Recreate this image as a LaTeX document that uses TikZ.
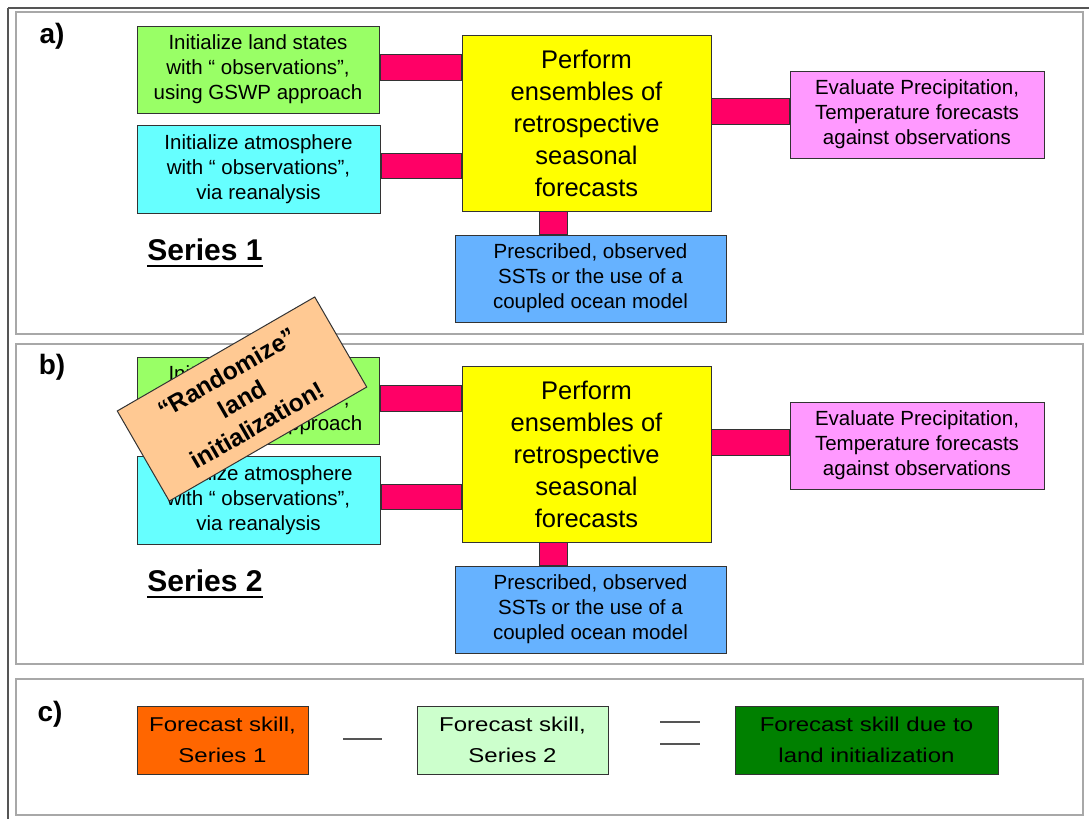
\documentclass[tikz,border=0pt]{standalone}
\usepackage{fontspec}
\setmainfont{Liberation Sans}
\newfontfamily\widefont[FakeStretch=1.2]{Liberation Sans}
\definecolor{landgreen}{HTML}{99FF66}
\definecolor{atmcyan}{HTML}{66FFFF}
\definecolor{perfyellow}{HTML}{FFFF00}
\definecolor{connpink}{HTML}{FF0066}
\definecolor{evalpink}{HTML}{FF99FF}
\definecolor{sstblue}{HTML}{66B2FF}
\definecolor{peach}{HTML}{FFC993}
\definecolor{skillorange}{HTML}{FF6600}
\definecolor{skilllight}{HTML}{CCFFCC}
\definecolor{skilldark}{HTML}{008000}
\definecolor{boxline}{HTML}{333333}
\definecolor{panelgray}{HTML}{A8A8A8}
\definecolor{outerline}{HTML}{555555}
\newcommand\seriespanel[2]{%
  \node[box, fill=landgreen, minimum width=242pt, minimum height=87pt] (land#1) at (258,69.5)
    {Initialize land states\\with “ observations”,\\using GSWP approach};
  \node[box, fill=atmcyan, minimum width=243pt, minimum height=88pt] (atm#1) at (258.5,169)
    {Initialize atmosphere\\with “ observations”,\\via reanalysis};
  \node[box, fill=perfyellow, minimum width=249pt, minimum height=176pt,
    font=\fontsize{25.5}{32}\selectfont] (perf#1) at (586.5,123)
    {Perform\\ensembles of\\retrospective\\seasonal\\forecasts};
  \node[box, fill=evalpink, minimum width=254pt, minimum height=87pt] (eval#1) at (917,114.5)
    {Evaluate Precipitation,\\Temperature forecasts\\against observations};
  \node[box, fill=sstblue, minimum width=271pt, minimum height=87pt] (sst#1) at (590.5,278.5)
    {Prescribed, observed\\SSTs or the use of a\\coupled ocean model};
  \draw[conn] ([xshift=1pt,yshift=15.5pt]land#1.east) rectangle ([yshift=-10.5pt]land#1.east -| perf#1.west);
  \draw[conn] ([xshift=1pt,yshift=16pt]atm#1.east) rectangle ([yshift=-9pt]atm#1.east -| perf#1.west);
  \draw[conn] ([yshift=16.5pt]eval#1.west -| perf#1.east) rectangle ([yshift=-9.5pt]eval#1.west);
  \draw[conn] ([xshift=-47.5pt]perf#1.south) rectangle ([xshift=-19.5pt]perf#1.south |- sst#1.north);
  \node[series] (ser#1) at (205,250) {Series #2};
  \draw[line width=2pt] ([yshift=-5pt]ser#1.base west) -- ([yshift=-5pt]ser#1.base east);
}
\begin{document}
\begin{tikzpicture}[x=1pt,y=-1pt,
  box/.style={draw=boxline, line width=1pt, inner sep=0pt, align=center, text=black,
    font=\fontsize{20.5}{25}\selectfont},
  conn/.style={draw=boxline, fill=connpink, line width=1pt},
  panel/.style={draw=panelgray, line width=1.5pt},
  plabel/.style={inner sep=0pt, font=\bfseries\fontsize{28}{30}\selectfont},
  series/.style={inner sep=0pt, font=\bfseries\fontsize{30}{32}\selectfont},
  skill/.style={box, font=\widefont\fontsize{20}{31}\selectfont, minimum height=68pt},
  opline/.style={draw=outerline, line width=2pt}]
\useasboundingbox (0,0) rectangle (1089,819);
\fill[white] (0,0) rectangle (1089,819);
% outer frame lines
\draw[opline] (8,7.5) -- (1089,7.5);
\draw[opline] (8,7.5) -- (8,819);
% panels
\draw[panel] (16,12) rectangle (1083,334);
\draw[panel] (16,344) rectangle (1083,664);
\draw[panel] (16,679) rectangle (1083,815);
\node[plabel] (la) at (52,36) {a)};
\node[plabel] (lb) at (52,367) {b)};
\node[plabel] (lc) at (50,714) {c)};
% panel a
\seriespanel{A}{1}
% panel b
\begin{scope}[yshift=-331pt]
\seriespanel{B}{2}
\end{scope}
% randomize note
\node[box, fill=peach, rotate=30, minimum width=228pt, minimum height=104pt,
  font=\bfseries\fontsize{24.5}{30}\selectfont] (rand) at (242,399)
  {“Randomize”\\land\\initialization!};
% panel c
\node[skill, fill=skillorange, minimum width=171pt] (s1) at (222.5,740) {Forecast skill,\\Series 1};
\node[skill, fill=skilllight, minimum width=191pt] (s2) at (512.5,740) {Forecast skill,\\Series 2};
\node[skill, fill=skilldark, minimum width=263pt] (s3) at (866.5,740) {Forecast skill due to\\land initialization};
\draw[opline] (343,739) -- (382,739);
\draw[opline] (660,722) -- (700,722);
\draw[opline] (660,744) -- (700,744);
\end{tikzpicture}
\end{document}
